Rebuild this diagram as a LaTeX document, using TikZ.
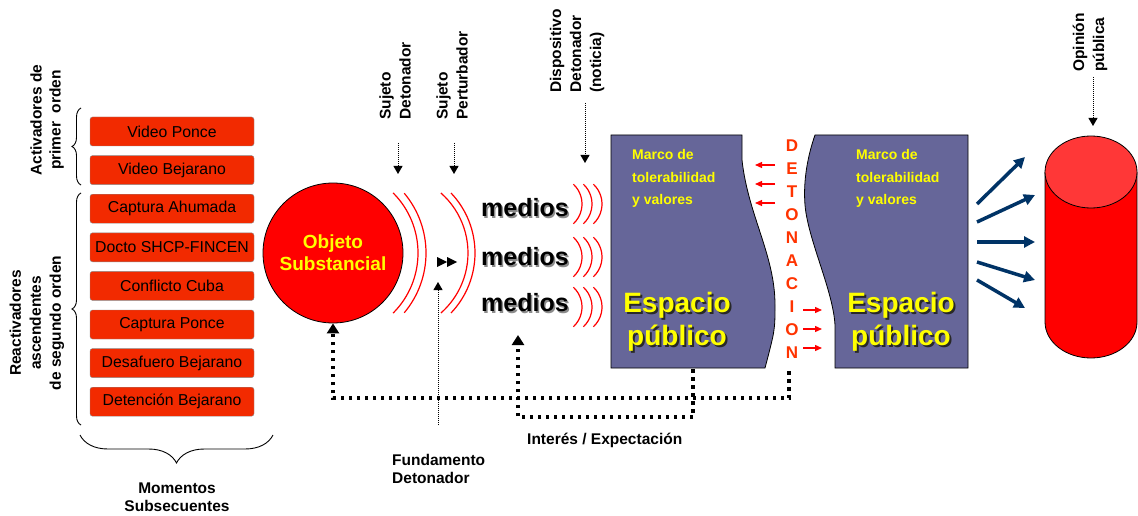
\documentclass[tikz,border=0pt]{standalone}
\usepackage{fontspec}
\setmainfont{Liberation Sans}
\usetikzlibrary{arrows.meta,decorations.pathreplacing}
\definecolor{boxred}{RGB}{242,42,0}
\definecolor{slate}{RGB}{102,102,153}
\definecolor{detred}{RGB}{255,51,0}
\definecolor{navy}{RGB}{0,51,102}
\definecolor{ylw}{RGB}{255,255,0}
\definecolor{cyltop}{RGB}{255,55,55}
\definecolor{shadowgray}{RGB}{140,140,140}
\definecolor{darkshadow}{RGB}{40,40,40}
\begin{document}
\begin{tikzpicture}[x=1pt,y=-1pt,
 evbox/.style={draw=black!45, fill=boxred, rounded corners=2.5pt, minimum width=164pt, minimum height=29pt, inner sep=0pt, font=\fontsize{15.8}{18}\selectfont},
 lbl/.style={font=\fontsize{15.5}{19}\selectfont\bfseries, inner sep=0pt},
 vlbl/.style={font=\fontsize{15.5}{20}\selectfont\bfseries, inner sep=0pt, rotate=90, anchor=west, align=left},
 thindot/.style={line width=0.9pt, dash pattern=on 1pt off 1pt, -{Triangle[width=9pt,length=8pt]}},
 thickdot/.style={line width=3.5pt, dash pattern=on 3.5pt off 4.5pt, -{Triangle[width=12pt,length=10pt]}},
 wave/.style={red, line width=1.2pt},
 detarrow/.style={red, line width=1.3pt, -{Triangle[width=6pt,length=7pt]}},
 bluearrow/.style={navy, line width=3.5pt, -{Triangle[width=11pt,length=11pt]}},
 mybrace/.style={decorate, line width=0.9pt},
 block/.style={draw=black, line width=0.8pt, fill=slate},
 medtxt/.style={font=\fontsize{25}{25}\selectfont\bfseries, inner sep=0pt},
 esptxt/.style={font=\fontsize{28}{33}\selectfont\bfseries, inner sep=0pt, align=center},
 marcotxt/.style={font=\fontsize{14}{22.5}\selectfont\bfseries, text=ylw, inner sep=0pt, align=left, anchor=west},
 detletter/.style={font=\fontsize{17}{17}\selectfont\bfseries, text=detred, inner sep=0pt},
]
\fill[white] (0,0) rectangle (1138,516);
\useasboundingbox (0,0) rectangle (1138,516);

% event boxes
\node[evbox] (b1) at (172,131.5) {Video Ponce};
\node[evbox] (b2) at (172,170.1) {Video Bejarano};
\node[evbox] (b3) at (172,208.7) {Captura Ahumada};
\node[evbox] (b4) at (172,247.3) {Docto SHCP-FINCEN};
\node[evbox] (b5) at (172,285.9) {Conflicto Cuba};
\node[evbox] (b6) at (172,324.5) {Captura Ponce};
\node[evbox] (b7) at (172,363.1) {Desafuero Bejarano};
\node[evbox] (b8) at (172,401.7) {Detención Bejarano};

% braces
\draw[mybrace, decoration={brace, amplitude=9pt}] (81,185) -- (81,108);
\draw[mybrace, decoration={brace, amplitude=9pt}] (81,425) -- (81,193);
\draw[mybrace, decoration={brace, amplitude=28pt}] (273,435) -- (80,435);

% side labels
\node[lbl, rotate=90, align=center, font=\fontsize{15.5}{19}\selectfont\bfseries] (act) at (47,120) {Activadores de\\primer\ \ orden};
\node[lbl, rotate=90, align=center, font=\fontsize{15.5}{20}\selectfont\bfseries] (react) at (37,323) {Reactivadores\\ascendentes\\de segundo orden};
\node[lbl, align=center, font=\fontsize{15.5}{18}\selectfont\bfseries] (mom) at (177,497) {Momentos\\Subsecuentes};

% object circle
\node[circle, draw=black, line width=0.8pt, fill=red, minimum size=140pt, inner sep=0pt,
      font=\fontsize{19}{22}\selectfont\bfseries, text=ylw, align=center] (obj) at (333,253) {Objeto\\Substancial};

% red waves around object
\draw[wave] (333,253) ++(-45:85) arc[start angle=-45, end angle=45, radius=85];
\draw[wave] (333,253) ++(-40:93) arc[start angle=-40, end angle=40, radius=93];
\draw[wave] (388,253) ++(-48.6:80) arc[start angle=-48.6, end angle=48.6, radius=80];
\draw[wave] (388,253) ++(-43.6:87) arc[start angle=-43.6, end angle=43.6, radius=87];

% double arrowhead
\fill (437,257) -- (447,262) -- (437,267) -- cycle;
\fill (447,257) -- (457,262) -- (447,267) -- cycle;

% medios
\foreach \yy/\nm in {208/m1,257/m2,303/m3}{
  \node[medtxt, text=shadowgray] at (526.5,\yy+1.5) {medios};
  \node[medtxt] (\nm) at (525,\yy) {medios};
}
\foreach \cy in {204,257,307}{
  \foreach \k in {0,1,2}{
    \draw[wave] (555+10*\k,\cy) ++(-47:27) arc[start angle=-47, end angle=47, radius=27];
  }
}

% top labels and dotted arrows
\node[vlbl] (sd) at (395,120) {Sujeto\\Detonador};
\node[vlbl] (sp) at (452,120) {Sujeto\\Perturbador};
\node[vlbl] (dd) at (577,93) {Dispositivo\\Detonador\\(noticia)};
\node[vlbl] (op) at (1090,72) {Opinión\\pública};
\coordinate (sdA) at (398,143); \coordinate (sdB) at (398,174);
\coordinate (spA) at (454,143); \coordinate (spB) at (454,174);
\coordinate (ddA) at (585,103); \coordinate (ddB) at (585,163);
\coordinate (opA) at (1093,77); \coordinate (opB) at (1093,126);
\draw[thindot] (sdA) -- (sdB);
\draw[thindot] (spA) -- (spB);
\draw[thindot] (ddA) -- (ddB);
\draw[thindot] (opA) -- (opB);

% fundamento
\coordinate (fdA) at (438,425); \coordinate (fdB) at (438,282);
\draw[thindot] (fdA) -- (fdB);
\node[lbl, align=left, anchor=west, font=\fontsize{15.5}{18}\selectfont\bfseries] (fund) at (392,469) {Fundamento\\Detonador};

% blocks
\draw[block] (611,135) -- (742,135) -- (742,160) .. controls (748,215) and (775,255) .. (775,305) .. controls (775,330) .. (765,368) -- (611,368) -- cycle;
\draw[block] (968,135) -- (815,135) .. controls (808,155) and (803,180) .. (805,205) .. controls (808,240) and (833,290) .. (835,325) -- (835,368) -- (968,368) -- cycle;
\node[marcotxt] (mc1) at (632,178.5) {Marco de\\tolerabilidad\\y valores};
\node[marcotxt] (mc2) at (856,178.5) {Marco de\\tolerabilidad\\y valores};
\node[esptxt, text=darkshadow] at (679,323.5) {Espacio\\público};
\node[esptxt, text=ylw] (ep1) at (677,321.5) {Espacio\\público};
\node[esptxt, text=darkshadow] at (903,323.5) {Espacio\\público};
\node[esptxt, text=ylw] (ep2) at (901,321.5) {Espacio\\público};

% DETONACION
\foreach \l [count=\i from 0] in {D,E,T,O,N,A,C,I,O,N}{
  \node[detletter] (det\i) at (792,146+23*\i) {\l};
}
\foreach \yy in {165,184,203}{ \draw[detarrow] (775,\yy) -- (755,\yy); }
\foreach \yy in {310,329,348}{ \draw[detarrow] (803,\yy) -- (822,\yy); }

% feedback dotted lines
\coordinate (lbB) at (693,369);
\coordinate (medArr) at (518,335);
\coordinate (detB) at (789,371);
\draw[thickdot] (lbB) -- (693,417) -- (518,417) -- (medArr);
\draw[thickdot] (detB) -- (789,398) -- (333,398) -- (obj.south);
\node[lbl, anchor=west] (intr) at (527,440) {Interés / Expectación};

% cylinder
\draw[line width=0.8pt, fill=red] (1045,172) -- (1045,322) arc[start angle=180, end angle=0, x radius=46, y radius=36] -- (1137,172);
\draw[line width=0.8pt, fill=cyltop] (1091,172) ellipse[x radius=46, y radius=36];

% blue arrows
\coordinate (ba) at (977,204); \coordinate (bae) at (1025,157);
\coordinate (bb) at (977,222); \coordinate (bbe) at (1035,195);
\coordinate (bc) at (977,242); \coordinate (bce) at (1035,242);
\coordinate (bd) at (977,262); \coordinate (bde) at (1035,280);
\coordinate (be) at (977,280); \coordinate (bee) at (1025,308);
\draw[bluearrow] (ba) -- (bae);
\draw[bluearrow] (bb) -- (bbe);
\draw[bluearrow] (bc) -- (bce);
\draw[bluearrow] (bd) -- (bde);
\draw[bluearrow] (be) -- (bee);
\end{tikzpicture}
\end{document}
